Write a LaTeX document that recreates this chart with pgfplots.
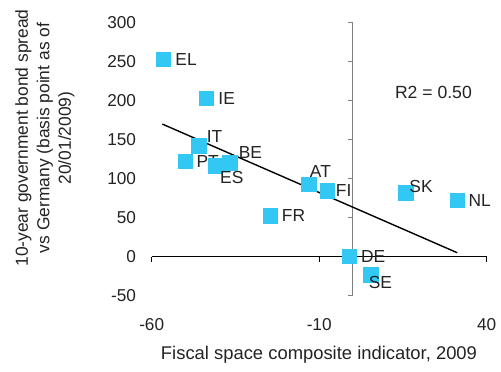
\documentclass[border=0pt]{standalone}
\usepackage{pgfplots}
\pgfplotsset{compat=1.18}
\usepackage{fontspec}
\setmainfont{Liberation Sans}
\definecolor{sq}{RGB}{51,199,243}
\definecolor{txt}{RGB}{35,35,35}
\begin{document}
\begin{tikzpicture}
\begin{axis}[
  name=ax,
  scale only axis, width=335pt, height=273pt,
  xmin=-60, xmax=40, ymin=-50, ymax=300,
  clip=false,
  axis line style={draw=none},
  tick style={draw=none},
  xtick={-60,-10,40},
  ytick={-50,0,50,100,150,200,250,300},
  /pgf/number format/assume math mode=true,
  ticklabel style={font=\fontsize{17.2}{20}\selectfont, text=txt},
  xticklabel style={anchor=center, inner sep=0pt, yshift=-29pt},
  yticklabel style={anchor=east, inner sep=0pt, xshift=-15.5pt},
]
% axis lines
\draw[black, line width=0.9pt] (axis cs:-60,0) -- (axis cs:40,0);
\draw[black, line width=0.9pt] (axis cs:-60,0) -- ([yshift=-5pt]axis cs:-60,0);
\draw[black, line width=0.9pt] (axis cs:-10,0) -- ([yshift=-5pt]axis cs:-10,0);
\draw[black, line width=0.9pt] (axis cs:40,0) -- ([yshift=-5pt]axis cs:40,0);
\draw[gray, line width=1.3pt] (axis cs:0,-50) -- (axis cs:0,300);
\pgfplotsinvokeforeach{-50,0,50,100,150,200,250,300}{
  \draw[gray, line width=1.1pt] (axis cs:0,#1) -- ([xshift=-5pt]axis cs:0,#1);
}
\addplot[only marks, color=sq, mark=square*, mark size=7.3pt,
  mark options={draw=sq, fill=sq, line width=0pt},
  point meta=explicit symbolic,
  visualization depends on={\thisrow{dx} \as \dx},
  visualization depends on={\thisrow{dy} \as \dy},
  nodes near coords,
  nodes near coords style={anchor=west, inner sep=0pt, text=txt,
    font=\fontsize{17.4}{20}\selectfont, xshift=\dx pt, yshift=\dy pt},
] table[x=x, y=y, meta=lbl] {
x y lbl dx dy
-56.5 253 EL 12.0 0
-43.6 203 IE 11.8 0
-45.8 142 IT 7.5 9
-49.9 122 PT 11.0 0
-40.9 116 ES 4.5 -11.7
-36.6 120.5 BE 8.8 10
-13.0 92.8 AT 0.8 12.6
-7.5 84.6 FI 8.3 0
15.9 81.3 SK 3.5 7
31.3 71.8 NL 11.0 0
-24.5 52.2 FR 11.3 0
-1.0 0 DE 11.7 0
5.4 -23.5 SE -2.0 -7.7
};
\addplot[black, line width=1.4pt] coordinates {(-56.8,170) (31.2,5.1)};
\node[anchor=base, text=txt, font=\fontsize{17.6}{20}\selectfont] at (axis cs:24.1,203.1) {R2 = 0.50};
\node[anchor=base, text=txt, font=\fontsize{18.4}{20}\selectfont] at (axis cs:-10.06,-132.4) {Fiscal space composite indicator, 2009};
\node[rotate=90, align=center, text=txt, font=\fontsize{17.4}{21.5}\selectfont] at (axis cs:-91.9,152.2) {10-year government bond spread\\vs Germany (basis point as of\\20/01/2009)};
\end{axis}
\pgfresetboundingbox
\useasboundingbox ([shift={(-151.7pt,-76.3pt)}]ax.south west) rectangle ([shift={(349.3pt,295.7pt)}]ax.south west);
\end{tikzpicture}
\end{document}
